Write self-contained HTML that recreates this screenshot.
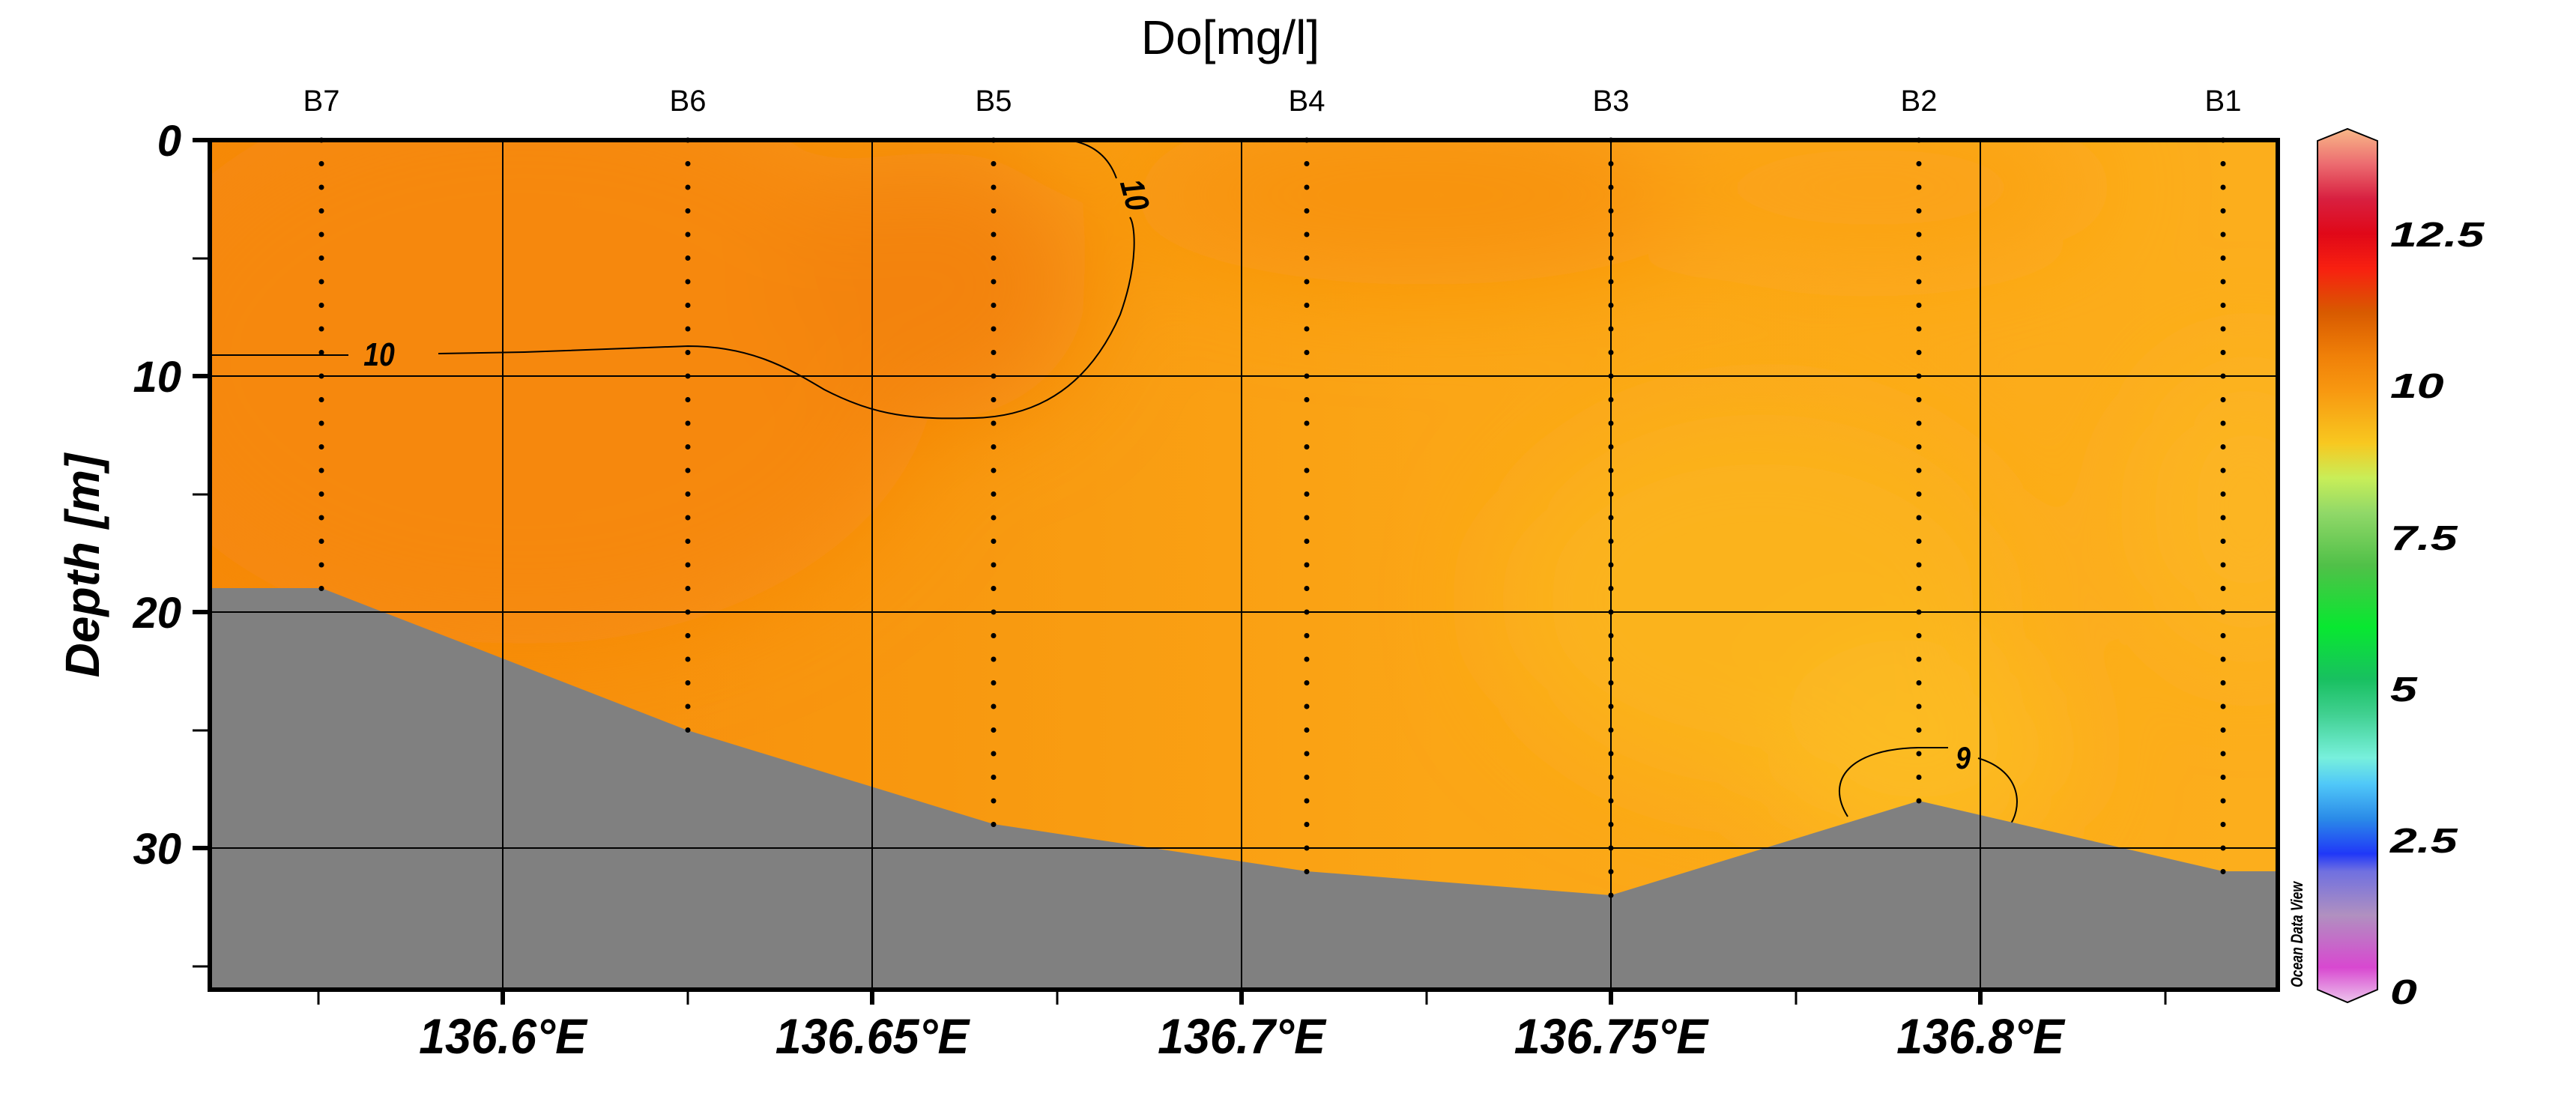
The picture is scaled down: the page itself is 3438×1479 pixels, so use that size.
<!DOCTYPE html>
<html><head><meta charset="utf-8"><style>
html,body{margin:0;padding:0;background:#fff;}
svg{display:block;}
text{font-family:"Liberation Sans",sans-serif;}
</style></head><body>
<svg width="3438" height="1479" viewBox="0 0 3438 1479" xmlns="http://www.w3.org/2000/svg">
<defs>
<linearGradient id="bg" x1="0" y1="0" x2="1" y2="0">
<stop offset="0" stop-color="#f6890a"/>
<stop offset="0.35" stop-color="#f8980f"/>
<stop offset="0.6" stop-color="#fba616"/>
<stop offset="1" stop-color="#fcae1c"/>
</linearGradient>
<filter id="bl" x="-50%" y="-50%" width="200%" height="200%"><feGaussianBlur stdDeviation="70"/></filter>
<clipPath id="pc"><rect x="280" y="187" width="2760" height="1134"/></clipPath>
<linearGradient id="cb" x1="0" y1="1" x2="0" y2="0">
<stop offset="0" stop-color="#ecc4ec"/>
<stop offset="0.04" stop-color="#d848d0"/>
<stop offset="0.1" stop-color="#b090c0"/>
<stop offset="0.15" stop-color="#7070e0"/>
<stop offset="0.17" stop-color="#2038f8"/>
<stop offset="0.21" stop-color="#2a8ae8"/>
<stop offset="0.25" stop-color="#50c8f8"/>
<stop offset="0.28" stop-color="#78f0dc"/>
<stop offset="0.33" stop-color="#40d090"/>
<stop offset="0.37" stop-color="#18c060"/>
<stop offset="0.43" stop-color="#08e830"/>
<stop offset="0.5" stop-color="#50c048"/>
<stop offset="0.56" stop-color="#90d868"/>
<stop offset="0.6" stop-color="#c8ee58"/>
<stop offset="0.64" stop-color="#f8c820"/>
<stop offset="0.7" stop-color="#f89810"/>
<stop offset="0.74" stop-color="#f08008"/>
<stop offset="0.79" stop-color="#d85a00"/>
<stop offset="0.84" stop-color="#f82010"/>
<stop offset="0.88" stop-color="#e00818"/>
<stop offset="0.92" stop-color="#d82040"/>
<stop offset="0.96" stop-color="#ec6c70"/>
<stop offset="1" stop-color="#f8b888"/>
</linearGradient>
</defs>
<text x="1642" y="72" font-size="64" text-anchor="middle">Do[mg/l]</text>
<g font-size="40" text-anchor="middle">
<text x="429" y="148">B7</text><text x="918" y="148">B6</text><text x="1326" y="148">B5</text><text x="1744" y="148">B4</text><text x="2150" y="148">B3</text><text x="2561" y="148">B2</text><text x="2967" y="148">B1</text>
</g>
<g clip-path="url(#pc)">
<rect x="280" y="187" width="2760" height="1134" fill="url(#bg)"/>
<g filter="url(#bl)">
<ellipse cx="700" cy="480" rx="550" ry="380" fill="#f6880a"/>
<ellipse cx="1250" cy="380" rx="200" ry="180" fill="#f38308"/>
<ellipse cx="1900" cy="260" rx="400" ry="120" fill="#f8930d"/>
<ellipse cx="2350" cy="800" rx="350" ry="250" fill="#fbb31f"/>
<ellipse cx="3000" cy="680" rx="150" ry="200" fill="#fcb520"/>
<ellipse cx="2560" cy="1000" rx="200" ry="150" fill="#fcbb24"/>
<ellipse cx="2500" cy="250" rx="300" ry="100" fill="#fba216"/>
</g>
<path d="M280,474 L465,474 M585,472 L700,470 L918,462 C1000,462 1050,490 1100,520 C1170,556 1220,560 1300,558 C1400,556 1460,500 1495,420 C1520,350 1515,300 1508,290 M1490,238 C1480,210 1460,192 1426,187" fill="none" stroke="#000" stroke-width="2"/>
<path d="M2466,1090 C2435,1040 2470,1000 2560,998 L2600,998 M2640,1012 C2700,1030 2700,1080 2680,1105" fill="none" stroke="#000" stroke-width="2"/>
<polygon points="280,785 429,785 918,975 1326,1100 1744,1163 2150,1195 2561,1069 2967,1163 3040,1163 3040,1321 280,1321" fill="#808080"/>
<g stroke="#000" stroke-width="2">
<line x1="280" y1="502" x2="3040" y2="502"/><line x1="280" y1="817" x2="3040" y2="817"/><line x1="280" y1="1132" x2="3040" y2="1132"/>
<line x1="671" y1="187" x2="671" y2="1321"/><line x1="1164" y1="187" x2="1164" y2="1321"/><line x1="1657" y1="187" x2="1657" y2="1321"/><line x1="2150" y1="187" x2="2150" y2="1321"/><line x1="2643" y1="187" x2="2643" y2="1321"/>
</g>
</g>
<g font-size="44" font-weight="bold" font-style="italic">
<text transform="translate(506,488) scale(0.85,1)" text-anchor="middle">10</text>
<text transform="translate(1500,264) rotate(75) scale(0.85,1)" text-anchor="middle">10</text>
<text transform="translate(2620,1026) scale(0.85,1)" text-anchor="middle" font-size="42">9</text>
</g>
<g stroke="#000" stroke-width="7" stroke-dasharray="0 31.5" stroke-linecap="round">
<line x1="429" y1="187" x2="429" y2="790"/>
<line x1="918" y1="187" x2="918" y2="980"/>
<line x1="1326" y1="187" x2="1326" y2="1105"/>
<line x1="1744" y1="187" x2="1744" y2="1168"/>
<line x1="2150" y1="187" x2="2150" y2="1200"/>
<line x1="2561" y1="187" x2="2561" y2="1074"/>
<line x1="2967" y1="187" x2="2967" y2="1168"/>
</g>
<rect x="280" y="187" width="2760" height="1134" fill="none" stroke="#000" stroke-width="6"/>
<g stroke="#000" stroke-width="6">
<line x1="257" y1="187" x2="280" y2="187"/><line x1="257" y1="502" x2="280" y2="502"/><line x1="257" y1="817" x2="280" y2="817"/><line x1="257" y1="1132" x2="280" y2="1132"/>
<line x1="671" y1="1321" x2="671" y2="1341"/><line x1="1164" y1="1321" x2="1164" y2="1341"/><line x1="1657" y1="1321" x2="1657" y2="1341"/><line x1="2150" y1="1321" x2="2150" y2="1341"/><line x1="2643" y1="1321" x2="2643" y2="1341"/>
</g>
<g stroke="#000" stroke-width="3">
<line x1="257" y1="345" x2="280" y2="345"/><line x1="257" y1="660" x2="280" y2="660"/><line x1="257" y1="975" x2="280" y2="975"/><line x1="257" y1="1290" x2="280" y2="1290"/>
<line x1="425" y1="1321" x2="425" y2="1341"/><line x1="918" y1="1321" x2="918" y2="1341"/><line x1="1411" y1="1321" x2="1411" y2="1341"/><line x1="1904" y1="1321" x2="1904" y2="1341"/><line x1="2397" y1="1321" x2="2397" y2="1341"/><line x1="2890" y1="1321" x2="2890" y2="1341"/>
</g>
<g font-size="58" font-weight="bold" font-style="italic" text-anchor="end">
<text x="242" y="208">0</text><text x="242" y="523">10</text><text x="242" y="838">20</text><text x="242" y="1153">30</text>
</g>
<text transform="translate(132,755) rotate(-90)" font-size="64" font-weight="bold" font-style="italic" text-anchor="middle">Depth [m]</text>
<g font-size="66" font-weight="bold" font-style="italic" text-anchor="middle">
<text transform="translate(671,1406) scale(0.95,1)">136.6°E</text>
<text transform="translate(1164,1406) scale(0.95,1)">136.65°E</text>
<text transform="translate(1657,1406) scale(0.95,1)">136.7°E</text>
<text transform="translate(2150,1406) scale(0.95,1)">136.75°E</text>
<text transform="translate(2643,1406) scale(0.95,1)">136.8°E</text>
</g>
<text transform="translate(3073,1318) rotate(-90) scale(0.8,1)" font-size="22" font-weight="bold" font-style="italic">Ocean Data View</text>
<polygon points="3093,188 3133,172 3173,188 3173,1321 3133,1338 3093,1321" fill="url(#cb)" stroke="#000" stroke-width="2"/>
<g font-size="46" font-weight="bold" font-style="italic">
<text transform="translate(3190,329) scale(1.4,1)">12.5</text>
<text transform="translate(3190,531) scale(1.4,1)">10</text>
<text transform="translate(3190,734) scale(1.4,1)">7.5</text>
<text transform="translate(3190,936) scale(1.4,1)">5</text>
<text transform="translate(3190,1138) scale(1.4,1)">2.5</text>
<text transform="translate(3190,1340) scale(1.4,1)">0</text>
</g>
</svg>
</body></html>
